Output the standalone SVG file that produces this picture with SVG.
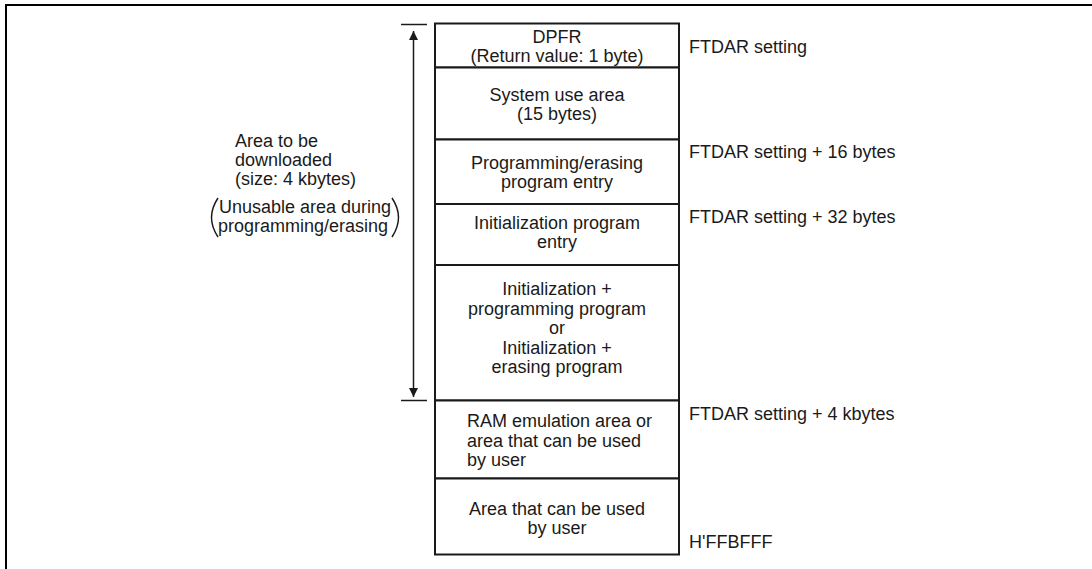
<svg xmlns="http://www.w3.org/2000/svg" width="1092" height="569" viewBox="0 0 1092 569">
<defs>
<style>
text{font-family:"Liberation Sans",Arial,sans-serif;font-size:18px;fill:#1a1a1a}
.c{text-anchor:middle}
.box{fill:#fff;stroke:#1a1a1a;stroke-width:2}
.ln{stroke:#1a1a1a;stroke-width:1.5;fill:none}
</style>
<marker id="ah" viewBox="0 0 10 10" refX="10" refY="5" markerWidth="9" markerHeight="10" markerUnits="userSpaceOnUse" orient="auto">
<path d="M0,0 L10,5 L0,10 Z" fill="#1a1a1a"/>
</marker>
</defs>
<rect width="1092" height="569" fill="#fff"/>
<path d="M6,569 V5 H1092" fill="none" stroke="#000" stroke-width="2"/>

<g id="n1"><rect class="box" x="435" y="23.5" width="244" height="44"/>
<text class="c" x="557" y="43">DPFR</text><text class="c" x="557" y="62">(Return value: 1 byte)</text></g>
<g id="n2"><rect class="box" x="435" y="67.5" width="244" height="72"/>
<text class="c" x="557" y="101">System use area</text><text class="c" x="557" y="120">(15 bytes)</text></g>
<g id="n3"><rect class="box" x="435" y="139.5" width="244" height="64.5"/>
<text class="c" x="557" y="169">Programming/erasing</text><text class="c" x="557" y="188">program entry</text></g>
<g id="n4"><rect class="box" x="435" y="204" width="244" height="61"/>
<text class="c" x="557" y="229">Initialization program</text><text class="c" x="557" y="248">entry</text></g>
<g id="n5"><rect class="box" x="435" y="265" width="244" height="135.5"/>
<text class="c" x="557" y="295">Initialization +</text><text class="c" x="557" y="315">programming program</text><text class="c" x="557" y="334">or</text><text class="c" x="557" y="354">Initialization +</text><text class="c" x="557" y="373">erasing program</text></g>
<g id="n6"><rect class="box" x="435" y="400.5" width="244" height="78"/>
<text x="467" y="427">RAM emulation area or</text><text x="467" y="447">area that can be used</text><text x="467" y="466">by user</text></g>
<g id="n7"><rect class="box" x="435" y="478.5" width="244" height="76"/>
<text class="c" x="557" y="515">Area that can be used</text><text class="c" x="557" y="534">by user</text></g>

<g id="labels">
<text x="689" y="53">FTDAR setting</text>
<text x="689" y="158">FTDAR setting + 16 bytes</text>
<text x="689" y="223">FTDAR setting + 32 bytes</text>
<text x="689" y="420">FTDAR setting + 4 kbytes</text>
<text x="689" y="548">H'FFBFFF</text>
<text x="235" y="147">Area to be</text>
<text x="235" y="166">downloaded</text>
<text x="235" y="185">(size: 4 kbytes)</text>
<text x="219" y="213">Unusable area during</text>
<text x="218" y="232">programming/erasing</text>
<path class="ln" d="M218,198 Q205,217.5 218,237"/>
<path class="ln" d="M392,198 Q405,217.5 392,237"/>
</g>

<g id="connectors">
<line class="ln" x1="401" y1="24.5" x2="427" y2="24.5"/>
<line class="ln" x1="401" y1="400.5" x2="427" y2="400.5"/>
<line class="ln" x1="413.5" y1="212" x2="413.5" y2="31" marker-end="url(#ah)"/>
<line class="ln" x1="413.5" y1="212" x2="413.5" y2="397" marker-end="url(#ah)"/>
</g>
</svg>
